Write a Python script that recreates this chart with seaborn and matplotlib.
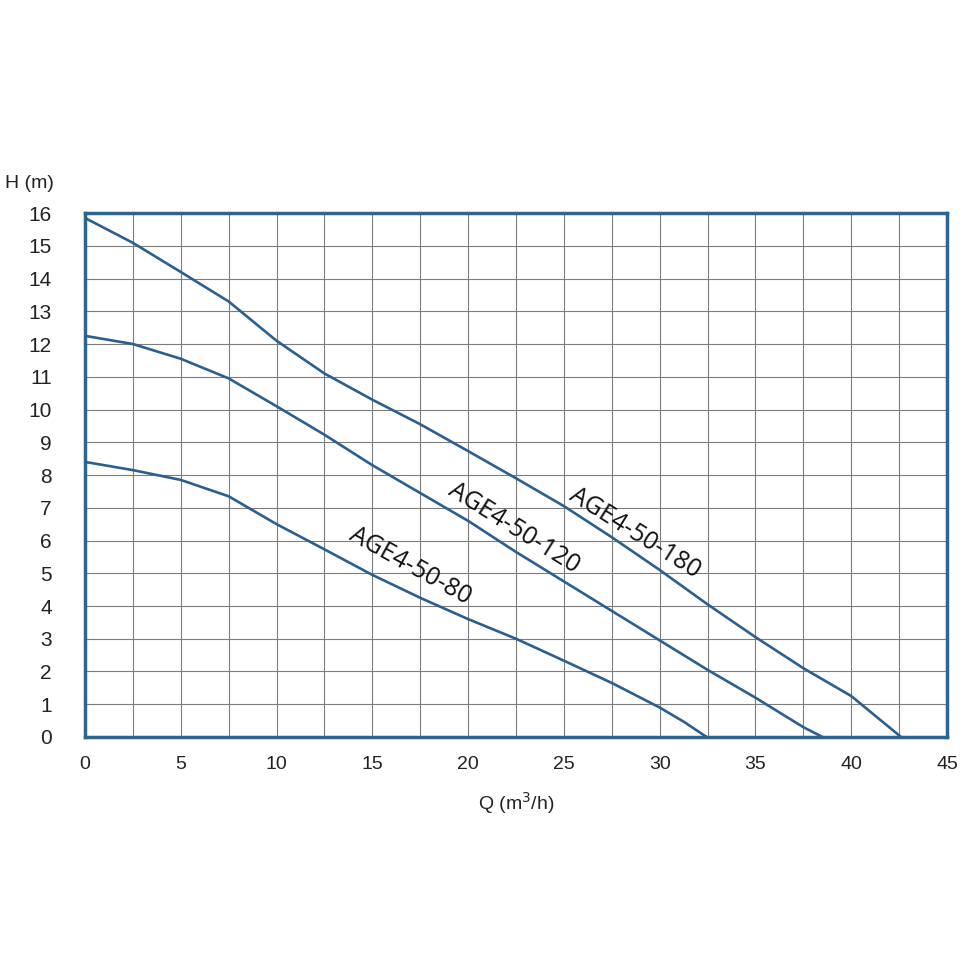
import pandas as pd
import matplotlib
matplotlib.use("Agg")
import matplotlib.pyplot as plt
import seaborn as sns
from matplotlib.ticker import MultipleLocator

# pump curves
q_80 = [0, 2.5, 5, 7.5, 10, 12.5, 15, 17.5, 20, 22.5, 25, 27.5, 30, 31.3, 32.45]
h_80 = [8.4, 8.15, 7.85, 7.35, 6.5, 5.73, 4.95, 4.25, 3.6, 3.0, 2.33, 1.65, 0.9, 0.45, 0]

q_120 = [0, 2.5, 5, 7.5, 10, 12.5, 15, 17.5, 20, 22.5, 25, 27.5, 30, 32.5, 35, 37.5, 38.5]
h_120 = [12.25, 12.0, 11.55, 10.95, 10.1, 9.23, 8.3, 7.45, 6.6, 5.65, 4.75, 3.85, 2.95, 2.05, 1.2, 0.3, 0]

q_180 = [0, 2.5, 5, 7.5, 10, 12.5, 15, 17.5, 20, 22.5, 25, 27.5, 30, 32.5, 35, 37.5, 40, 42.6]
h_180 = [15.85, 15.09, 14.2, 13.3, 12.1, 11.1, 10.3, 9.55, 8.73, 7.9, 7.05, 6.1, 5.1, 4.05, 3.05, 2.1, 1.25, 0]

models = ["AGE4-50-80", "AGE4-50-120", "AGE4-50-180"]
y_ticks = list(range(0, 17))

df = pd.concat([
    pd.DataFrame({"Q": q_80, "H": h_80, "model": models[0]}),
    pd.DataFrame({"Q": q_120, "H": h_120, "model": models[1]}),
    pd.DataFrame({"Q": q_180, "H": h_180, "model": models[2]}),
])

line_col = "#2a5f8f"
frame_col = "#2d6591"

sns.set_style("white")
plt.rcParams['font.family'] = ['Liberation Sans', 'DejaVu Sans']

fig = plt.figure(figsize=(9.6, 9.6), dpi=100)
ax = fig.add_axes([0.0885, 0.2323, 0.898, 0.5458])

sns.lineplot(data=df, x="Q", y="H", hue="model", palette={m: line_col for m in models},
             sort=False, estimator=None, linewidth=1.9, legend=False, ax=ax, zorder=3)

ax.set_xlim(0, 45)
ax.set_ylim(0, 16)
ax.xaxis.set_major_locator(MultipleLocator(5))
ax.xaxis.set_minor_locator(MultipleLocator(2.5))
ax.set_yticks(y_ticks)
ax.grid(which="both", color="#7d7d7d", linewidth=0.8)
ax.tick_params(which="both", length=0)
ax.tick_params(axis="y", pad=24, labelsize=15, labelcolor="#222222")
ax.tick_params(axis="x", pad=14, labelsize=14, labelcolor="#222222")

for s in ax.spines.values():
    s.set_visible(True)
    s.set_color(frame_col)
    s.set_linewidth(2.5)

ax.set_xlabel("")
ax.set_ylabel("")

fig.text(0.005, 0.809, "H (m)", fontsize=14, color="#222222", va="center", ha="left")
fig.text(0.538, 0.163, "Q (m$^{3}$/h)", fontsize=14, color="#222222", va="center", ha="center")

lab_font = ['Open Sans', 'DejaVu Sans']
ax.text(28.7, 6.23, models[2], rotation=-32, fontsize=18, family=lab_font,
        ha="center", va="center", color="#111111", zorder=4)
ax.text(22.4, 6.38, models[1], rotation=-32, fontsize=18, family=lab_font,
        ha="center", va="center", color="#111111", zorder=4)
ax.text(16.96, 5.22, models[0], rotation=-29, fontsize=18, family=lab_font,
        ha="center", va="center", color="#111111", zorder=4)

fig.savefig("out.png", dpi=100, facecolor="white")
